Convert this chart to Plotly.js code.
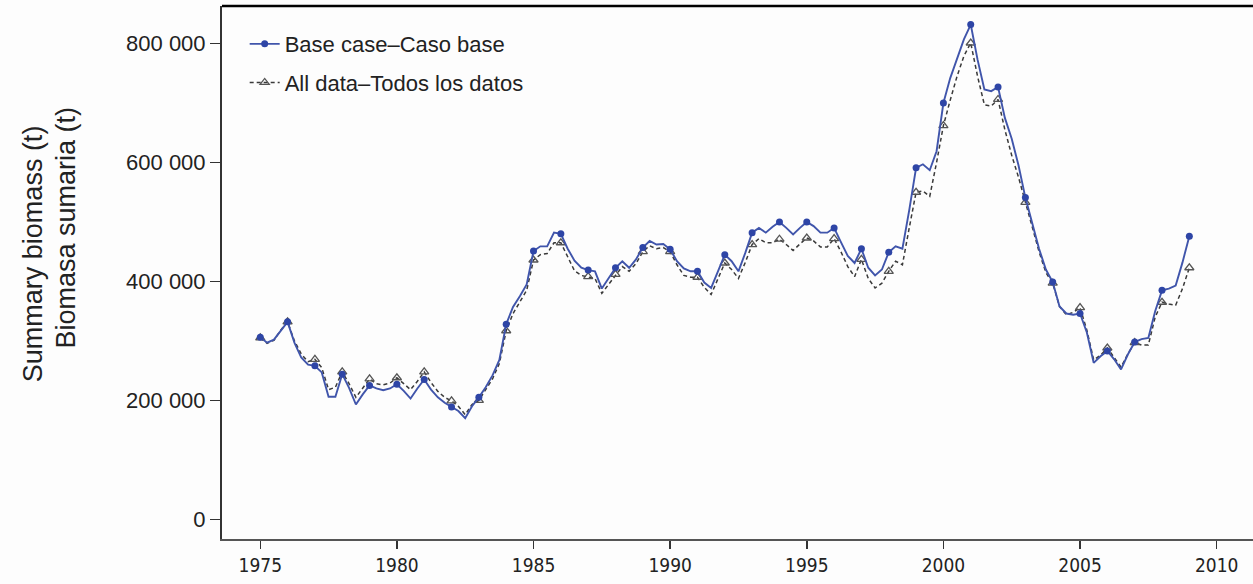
<!DOCTYPE html>
<html>
<head>
<meta charset="utf-8">
<script src="https://cdn.plot.ly/plotly-3.0.1.min.js"></script>
<style>
html,body{margin:0;padding:0;background:#fdfdfd;}
#chart{width:1253px;height:584px;}
</style>
</head>
<body>
<div id="chart"></div>
<script>
// Years (each year has four quarterly values: Q1..Q4)
const years = [1975,1976,1977,1978,1979,1980,1981,1982,1983,1984,1985,1986,1987,1988,1989,1990,1991,1992,1993,1994,1995,1996,1997,1998,1999,2000,2001,2002,2003,2004,2005,2006,2007,2008,2009];
const quarterOffsets = [0, 0.25, 0.5, 0.75];

// Base case – Caso base (thousand t), quarterly, per year
const baseCase = [
  [306,297,302,318],[332,297,272,260],[258,247,206,206],[244,221,193,210],
  [225,220,217,220],[227,216,203,220],[235,218,205,196],[189,182,170,190],
  [205,222,242,268],[328,357,375,395],[451,459,459,482],[480,455,435,423],
  [419,417,388,405],[423,434,423,437],[457,468,462,463],[454,434,422,417],
  [417,398,389,417],[445,434,417,448],[482,490,482,492],[500,490,479,490],
  [500,493,482,482],[490,466,443,431],[455,423,410,420],[449,459,455,520],
  [591,597,587,619],[700,742,776,807],[832,773,723,720],[727,675,640,595],
  [541,497,455,420],[399,358,346,344],[346,314,263,274],[283,269,252,277],
  [298,303,305,350],[385,388,393,432],[476]
];

// All data – Todos los datos (thousand t), quarterly, per year
const allData = [
  [305,296,301,318],[332,300,278,265],[269,255,218,222],[248,228,205,220],
  [236,228,226,229],[238,228,218,232],[248,230,215,205],[199,190,176,193],
  [200,218,236,262],[317,346,365,385],[436,445,447,465],[465,440,418,410],
  [408,405,380,395],[412,425,417,430],[450,460,455,457],[450,428,410,407],
  [407,390,378,405],[431,420,405,432],[462,472,465,465],[471,462,452,463],
  [473,468,458,458],[472,450,425,408],[437,405,389,397],[417,434,428,490],
  [550,552,543,600],[662,705,745,779],[801,745,697,695],[706,655,612,575],
  [533,490,450,415],[397,358,344,348],[356,318,268,276],[288,272,256,278],
  [297,293,293,340],[365,362,360,388],[423]
];

const yTickVals = [0, 200000, 400000, 600000, 800000];
const yTickText = ['0', '200 000', '400 000', '600 000', '800 000'];
const xTickVals = [1975, 1980, 1985, 1990, 1995, 2000, 2005, 2010];

function flatten(series) {
  const x = [], y = [], annual = [];
  series.forEach((vals, i) => {
    vals.forEach((v, q) => {
      if (q === 0) annual.push(x.length);
      x.push(years[i] + quarterOffsets[q]);
      y.push(v * 1000);
    });
  });
  return {x, y, annual};
}

const b = flatten(baseCase);
const a = flatten(allData);

const traces = [
  {
    x: a.x, y: a.y, type: 'scatter', mode: 'lines+markers',
    name: 'All data\u2013Todos los datos', legendgroup: 'b', legendrank: 2,
    line: {color: '#3a3a3a', width: 1.5, dash: '4px,3px'},
    marker: {symbol: 'triangle-up-open', size: 8, color: '#555555', line: {width: 1.3, color: '#555555'}},
    selectedpoints: a.annual,
    selected: {marker: {opacity: 1}},
    unselected: {marker: {opacity: 0}},
    hoverinfo: 'skip'
  },
  {
    x: b.x, y: b.y, type: 'scatter', mode: 'lines+markers',
    name: 'Base case\u2013Caso base', legendgroup: 'a', legendrank: 1,
    line: {color: '#4055ab', width: 1.9},
    marker: {symbol: 'circle', size: 7, color: '#2e45a6'},
    selectedpoints: b.annual,
    selected: {marker: {opacity: 1}},
    unselected: {marker: {opacity: 0}},
    hoverinfo: 'skip'
  }
];

const layout = {
  width: 1253, height: 584,
  margin: {l: 222, r: 0, t: 6, b: 45, pad: 0},
  paper_bgcolor: '#fdfdfd', plot_bgcolor: '#fdfdfd',
  showlegend: true,
  legend: {
    x: 0.022, y: 0.968, xanchor: 'left', yanchor: 'top',
    bgcolor: 'rgba(0,0,0,0)', borderwidth: 0,
    font: {family: 'Liberation Sans, Arial, sans-serif', size: 22, color: '#222'},
    traceorder: 'grouped', tracegroupgap: 7, itemwidth: 30
  },
  xaxis: {
    range: [1973.6, 2011.33], showgrid: false, zeroline: false,
    showline: true, linecolor: '#555', linewidth: 2,
    ticks: 'outside', ticklen: 8, tickwidth: 1.5, tickcolor: '#333',
    tickvals: xTickVals, ticktext: xTickVals.map(String),
    tickfont: {family: 'Liberation Sans Narrow, Arial Narrow, DejaVu Sans Condensed, sans-serif', size: 19, color: '#222'}
  },
  yaxis: {
    range: [-33200, 863200], showgrid: false, zeroline: false,
    showline: true, linecolor: '#333', linewidth: 2,
    ticks: 'outside', ticklen: 10, tickwidth: 1.5, tickcolor: '#333',
    tickvals: yTickVals, ticktext: yTickText,
    tickfont: {family: 'Liberation Sans, Arial, sans-serif', size: 22, color: '#222'}
  },
  shapes: [
    {type: 'line', xref: 'paper', yref: 'paper', x0: 0, x1: 1, y0: 1, y1: 1,
     line: {color: '#000', width: 2.5}}
  ],
  annotations: [
    {text: 'Summary biomass (t)', xref: 'paper', yref: 'paper', x: -0.183, y: 0.535,
     xanchor: 'center', yanchor: 'middle', textangle: -90, showarrow: false,
     font: {family: 'Liberation Sans, Arial, sans-serif', size: 27, color: '#222'}},
    {text: 'Biomasa sumaria (t)', xref: 'paper', yref: 'paper', x: -0.151, y: 0.585,
     xanchor: 'center', yanchor: 'middle', textangle: -90, showarrow: false,
     font: {family: 'Liberation Sans, Arial, sans-serif', size: 27, color: '#222'}}
  ]
};

Plotly.newPlot('chart', traces, layout, {staticPlot: true, displayModeBar: false});
</script>
</body>
</html>
